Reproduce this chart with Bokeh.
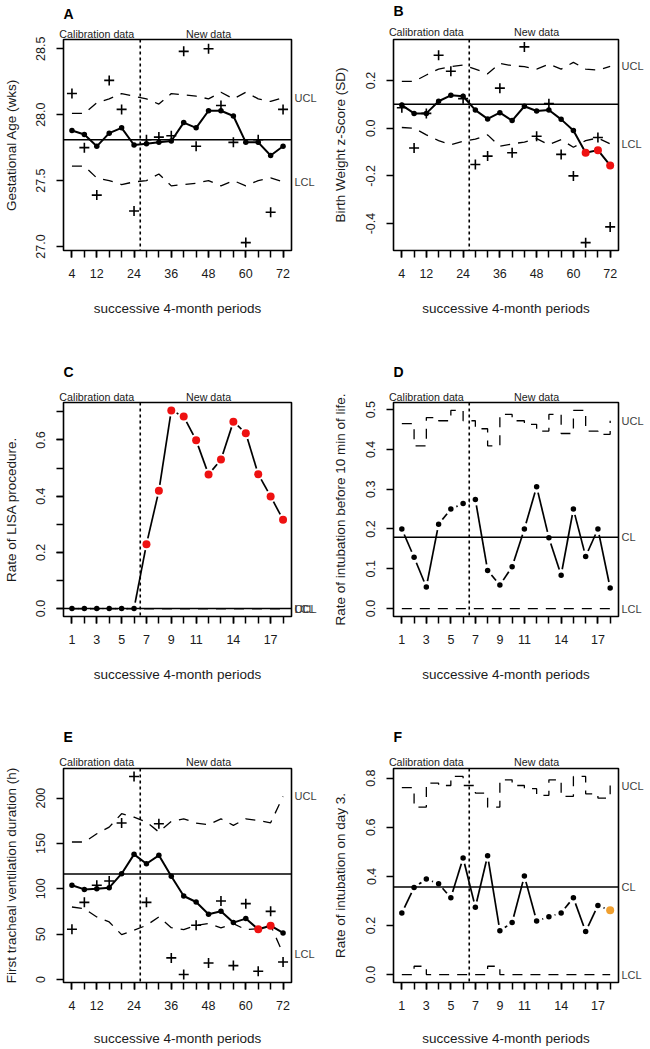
import math
from bokeh.plotting import figure
from bokeh.layouts import gridplot
from bokeh.models import (FixedTicker, PrintfTickFormatter, Span, LinearAxis,
                          CustomJSTickFormatter)
from bokeh.embed import file_html
from bokeh.resources import INLINE

# ------------------------------------------------------------------ data
months = [4, 8, 12, 16, 20, 24, 28, 32, 36, 40, 44, 48, 52, 56, 60, 64, 68, 72]
periods = list(range(1, 19))

month_tick_labels = [4, 12, 24, 36, 48, 60, 72]
period_tick_labels = [1, 3, 5, 7, 9, 11, 14, 17]
x_title = "successive 4-month periods"
phase_labels = ["Calibration data", "New data"]

# A - gestational age
ga_mean = [27.88, 27.85, 27.76, 27.86, 27.90, 27.77, 27.78, 27.79, 27.80,
           27.94, 27.90, 28.03, 28.03, 27.99, 27.79, 27.79, 27.69, 27.76]
ga_ucl = [28.01, 28.01, 28.09, 28.12, 28.16, 28.14, 28.12, 28.08, 28.16,
          28.15, 28.14, 28.12, 28.17, 28.12, 28.17, 28.12, 28.10, 28.13]
ga_lcl = [27.61, 27.61, 27.52, 27.50, 27.47, 27.49, 27.50, 27.55, 27.46,
          27.47, 27.48, 27.50, 27.46, 27.50, 27.46, 27.50, 27.52, 27.49]
ga_obs = [28.16, 27.75, 27.39, 28.26, 28.04, 27.27, 27.81, 27.83, 27.84,
          28.48, 27.76, 28.50, 28.07, 27.79, 27.03, 27.81, 27.26, 28.04]
ga_cl = 27.81
ga_signal = [0] * 18

# B - birth weight z-score
bw_mean = [0.097, 0.062, 0.062, 0.113, 0.138, 0.134, 0.076, 0.039, 0.065,
           0.032, 0.092, 0.072, 0.076, 0.037, -0.010, -0.103, -0.092, -0.156]
bw_ucl = [0.196, 0.196, 0.223, 0.248, 0.258, 0.265, 0.248, 0.228, 0.272,
          0.262, 0.258, 0.248, 0.269, 0.248, 0.276, 0.248, 0.244, 0.259]
bw_lcl = [0.003, 0.000, -0.028, -0.052, -0.069, -0.055, -0.046, -0.028, -0.076,
          -0.066, -0.058, -0.044, -0.069, -0.048, -0.080, -0.052, -0.041, -0.066]
bw_obs = [0.086, -0.083, 0.062, 0.306, 0.239, 0.124, -0.152, -0.117, 0.168,
          -0.103, 0.341, -0.034, 0.103, -0.110, -0.200, -0.480, -0.039, -0.414]
bw_cl = 0.10
bw_signal = [0] * 15 + [1, 1, 1]

# C - LISA rate
lisa_rate = [0.0, 0.0, 0.0, 0.0, 0.0, 0.0, 0.229, 0.419, 0.705,
             0.683, 0.599, 0.477, 0.530, 0.665, 0.624, 0.478, 0.399, 0.316]
lisa_ucl = [0.0] * 18
lisa_lcl = [0.0] * 18
lisa_cl = 0.0
lisa_signal = [0] * 6 + [1] * 12

# D - intubation before 10 min
i10_rate = [0.200, 0.129, 0.054, 0.212, 0.250, 0.264, 0.274, 0.096, 0.059,
            0.105, 0.200, 0.306, 0.178, 0.084, 0.250, 0.131, 0.200, 0.052]
i10_ucl = [0.465, 0.409, 0.480, 0.472, 0.498, 0.472, 0.452, 0.409, 0.488,
           0.472, 0.463, 0.446, 0.488, 0.440, 0.498, 0.446, 0.438, 0.472]
i10_lcl = [0.0] * 18
i10_cl = 0.179
i10_signal = [0] * 18

# E - first tracheal ventilation duration
vent_mean = [103.9, 99.4, 100.2, 101.3, 116.7, 138.0, 127.7, 136.9, 113.8,
             92.1, 85.5, 71.9, 75.2, 62.8, 67.2, 55.4, 59.4, 51.4]
vent_ucl = [151.6, 151.6, 160.7, 168.0, 182.8, 179.0, 173.6, 162.6, 174.3,
            177.2, 172.5, 170.6, 177.2, 170.0, 177.2, 175.4, 172.8, 201.8]
vent_lcl = [80.0, 78.2, 69.0, 63.5, 49.5, 54.3, 59.8, 69.0, 57.2,
            55.0, 59.8, 61.7, 56.9, 61.7, 55.0, 56.1, 59.8, 28.6]
vent_obs = [55.4, 85.1, 103.9, 108.6, 172.5, 223.9, 85.1, 171.7, 23.9,
            5.5, 59.8, 18.3, 86.6, 15.4, 83.7, 9.2, 75.2, 19.4]
vent_cl = 116.3
vent_signal = [0] * 15 + [1, 1, 0]

# F - intubation on day 3
i3_rate = [0.251, 0.355, 0.389, 0.370, 0.313, 0.475, 0.274, 0.484, 0.178,
           0.212, 0.401, 0.218, 0.235, 0.251, 0.313, 0.175, 0.281, 0.262]
i3_ucl = [0.761, 0.682, 0.780, 0.770, 0.807, 0.770, 0.739, 0.682, 0.793,
          0.770, 0.757, 0.730, 0.793, 0.726, 0.807, 0.736, 0.719, 0.770]
i3_lcl = [0.0, 0.034, 0.0, 0.0, 0.0, 0.0, 0.0, 0.034, 0.0,
          0.0, 0.0, 0.0, 0.0, 0.0, 0.0, 0.0, 0.0, 0.0]
i3_cl = 0.357
i3_signal = [0] * 17 + [2]

# ------------------------------------------------------------------ style
FONT = "Liberation Sans"
TXT = "#1a1a1a"
GREY = "#404040"
SIGNAL_COLORS = {1: "#ee1111", 2: "#f0a030"}
DASH = "10 8"


def r_range(lo, hi):
    d = (hi - lo) * 0.04
    return (lo - d, hi + d)


def text_axis(ticks, labels, loc, p, size, color, standoff):
    ax = LinearAxis(ticker=FixedTicker(ticks=ticks),
                    formatter=CustomJSTickFormatter(args=dict(labels=labels),
                                                    code="return labels[index];"))
    ax.axis_line_color = None
    ax.major_tick_line_color = None
    ax.minor_tick_line_color = None
    ax.major_tick_out = 0
    ax.major_tick_in = 0
    ax.minor_tick_out = 0
    ax.minor_tick_in = 0
    ax.major_label_standoff = standoff
    ax.major_label_text_font = FONT
    ax.major_label_text_font_size = size
    ax.major_label_text_color = color
    ax.major_label_orientation = "horizontal"
    p.add_layout(ax, loc)
    return ax


def make_panel(letter, w, h, borders, xr, yr, xt_major, xt_minor,
               yt_major, yt_minor, yfmt, ylab, y_standoff, x_standoff,
               split, phase_x, top_standoff, title_standoff, title_valign,
               side_vals, side_texts):
    bl, br, bt, bb = borders
    p = figure(width=w, height=h, x_range=xr, y_range=yr,
               output_backend="svg", toolbar_location=None,
               min_border_left=bl, min_border_right=br,
               min_border_top=bt, min_border_bottom=bb)
    p.grid.visible = False
    p.background_fill_color = "white"
    p.border_fill_color = "white"
    p.outline_line_color = "black"
    p.outline_line_width = 1.6
    p.outline_line_alpha = 1.0
    for ax in (p.xaxis[0], p.yaxis[0]):
        ax.axis_line_color = None
        ax.major_tick_out = 7
        ax.major_tick_in = 0
        ax.minor_tick_out = 7
        ax.minor_tick_in = 0
        ax.major_tick_line_width = 1.5
        ax.minor_tick_line_width = 1.5
        ax.major_tick_line_color = "black"
        ax.minor_tick_line_color = "black"
        ax.major_label_text_font = FONT
        ax.major_label_text_font_size = "12.5px"
        ax.major_label_text_color = TXT
        ax.axis_label_text_font = FONT
        ax.axis_label_text_font_size = "13.5px"
        ax.axis_label_text_font_style = "normal"
        ax.axis_label_text_color = TXT
        ax.major_label_standoff = 11
    p.xaxis.ticker = FixedTicker(ticks=xt_major, minor_ticks=xt_minor)
    p.xaxis.formatter = PrintfTickFormatter(format="%d")
    p.xaxis.axis_label = x_title
    p.xaxis.axis_label_standoff = x_standoff
    p.yaxis.ticker = FixedTicker(ticks=yt_major, minor_ticks=yt_minor)
    p.yaxis.formatter = PrintfTickFormatter(format=yfmt)
    p.yaxis.major_label_orientation = "vertical"
    p.yaxis.axis_label = ylab
    p.yaxis.axis_label_standoff = y_standoff

    # "Calibration data" / "New data" above the frame
    text_axis(phase_x, phase_labels, "above", p, "10.7px", TXT, top_standoff)
    # UCL / CL / LCL at the right of the frame
    text_axis(side_vals, side_texts, "right", p, "11px", GREY, 3)

    # panel letter
    p.title.text = letter
    p.title.align = "left"
    p.title.vertical_align = title_valign
    p.title.text_font = FONT
    p.title.text_font_size = "14px"
    p.title.text_font_style = "bold"
    p.title.text_color = "black"
    p.title.standoff = title_standoff

    # calibration / new data split
    p.add_layout(Span(location=split, dimension="height", line_color="black",
                      line_width=1.6, line_dash="3 3"))
    return p


def add_points(p, x, y, signal, base_size=5.5, big=8):
    bx = [a for a, s in zip(x, signal) if s == 0]
    by = [b for b, s in zip(y, signal) if s == 0]
    p.scatter(bx, by, size=base_size, color="black", line_width=0)
    for code, col in SIGNAL_COLORS.items():
        sx = [a for a, s in zip(x, signal) if s == code]
        sy = [b for b, s in zip(y, signal) if s == code]
        if sx:
            p.scatter(sx, sy, size=big, color=col, line_width=0)


def gapped_line(p, x, y, xr, yr, frame_w, frame_h, gap=6.0):
    # R type="b": segments interrupted around each point
    kx = frame_w / (xr[1] - xr[0])
    ky = frame_h / (yr[1] - yr[0])
    x0, y0, x1, y1 = [], [], [], []
    for i in range(len(x) - 1):
        dx = x[i + 1] - x[i]
        dy = y[i + 1] - y[i]
        L = math.hypot(dx * kx, dy * ky)
        if L > 2 * gap:
            f = gap / L
            x0.append(x[i] + dx * f)
            y0.append(y[i] + dy * f)
            x1.append(x[i + 1] - dx * f)
            y1.append(y[i + 1] - dy * f)
    p.segment(x0, y0, x1, y1, line_color="black", line_width=1.7)


W = 325
H1, H2, H3 = 340, 350, 358

xr_m = r_range(4, 72)
xr_p = r_range(1, 18)
phase_m = [months[2], months[11]]
phase_p = [periods[2], periods[11]]

# ------------------------------------------------------------------ A
yrA = (26.97, 28.57)
bA = (63, 33, 34, 90)
A = make_panel("A", W, H1, bA, xr_m, yrA, month_tick_labels, months,
               [27.0, 27.5, 28.0, 28.5], [], "%.1f", "Gestational Age (wks)",
               15, 20, 26, phase_m, 0, 2, "top",
               [ga_lcl[-1], ga_ucl[-1]], ["LCL", "UCL"])
A.line(months, ga_ucl, line_color="black", line_width=1.3, line_dash=DASH)
A.line(months, ga_lcl, line_color="black", line_width=1.3, line_dash=DASH)
A.add_layout(Span(location=ga_cl, dimension="width", line_color="black", line_width=1.5))
A.line(months, ga_mean, line_color="black", line_width=2)
add_points(A, months, ga_mean, ga_signal)
A.scatter(months, ga_obs, marker="cross", size=10, line_color="black", line_width=1.6)

# ------------------------------------------------------------------ B
yrB = (-0.513, 0.372)
bB = (68, 32, 38, 90)
B = make_panel("B", W, H1, bB, xr_m, yrB, month_tick_labels, months,
               [-0.4, -0.2, 0.0, 0.2], [], "%.1f", "Birth Weight z-Score (SD)",
               16, 20, 26, phase_m, 2, 4, "top",
               [bw_lcl[-1], bw_ucl[-1]], ["LCL", "UCL"])
B.line(months, bw_ucl, line_color="black", line_width=1.3, line_dash=DASH)
B.line(months, bw_lcl, line_color="black", line_width=1.3, line_dash=DASH)
B.add_layout(Span(location=bw_cl, dimension="width", line_color="black", line_width=1.5))
B.line(months, bw_mean, line_color="black", line_width=2)
add_points(B, months, bw_mean, bw_signal)
B.scatter(months, bw_obs, marker="cross", size=10, line_color="black", line_width=1.6)

# ------------------------------------------------------------------ C
yrC = r_range(0.0, 0.705)
bC = (63, 33, 62, 74)
C = make_panel("C", W, H2, bC, xr_p, yrC, period_tick_labels, periods,
               [0.0, 0.2, 0.4, 0.6], [0.0, 0.1, 0.2, 0.3, 0.4, 0.5, 0.6, 0.7], "%.1f",
               "Rate of LISA procedure.", 15, 20, 6.5, phase_p, 0, 15, "bottom",
               [lisa_lcl[-1], lisa_cl, lisa_ucl[-1]], ["LCL", "CL", "UCL"])
C.step(periods, lisa_ucl, mode="after", line_color="black", line_width=1.3, line_dash=DASH)
C.step(periods, lisa_lcl, mode="after", line_color="black", line_width=1.3, line_dash=DASH)
C.add_layout(Span(location=lisa_cl, dimension="width", line_color="black", line_width=1.5))
gapped_line(C, periods, lisa_rate, xr_p, yrC, W - bC[0] - bC[1], H2 - bC[2] - bC[3])
add_points(C, periods, lisa_rate, lisa_signal)

# ------------------------------------------------------------------ D
yrD = r_range(0.0, 0.498)
bD = (68, 32, 62, 74)
D = make_panel("D", W, H2, bD, xr_p, yrD, period_tick_labels, periods,
               [0.0, 0.1, 0.2, 0.3, 0.4, 0.5], [], "%.1f",
               "Rate of intubation before 10 min of life.", 16, 20, 6.5, phase_p, 0, 15,
               "bottom", [i10_lcl[-1], i10_cl, i10_ucl[-1]], ["LCL", "CL", "UCL"])
D.step(periods, i10_ucl, mode="after", line_color="black", line_width=1.3, line_dash=DASH)
D.step(periods, i10_lcl, mode="after", line_color="black", line_width=1.3, line_dash=DASH)
D.add_layout(Span(location=i10_cl, dimension="width", line_color="black", line_width=1.5))
gapped_line(D, periods, i10_rate, xr_p, yrD, W - bD[0] - bD[1], H2 - bD[2] - bD[3])
add_points(D, periods, i10_rate, i10_signal)

# ------------------------------------------------------------------ E
yrE = r_range(5.5, 223.9)
bE = (63, 34, 78, 66)
E = make_panel("E", W, H3, bE, xr_m, yrE, month_tick_labels, months,
               [0, 50, 100, 150, 200], [], "%d",
               "First tracheal ventilation duration (h)", 15, 18, 26, phase_m, 1, 15,
               "bottom", [vent_lcl[-1], vent_ucl[-1]], ["LCL", "UCL"])
E.line(months, vent_ucl, line_color="black", line_width=1.3, line_dash=DASH)
E.line(months, vent_lcl, line_color="black", line_width=1.3, line_dash=DASH)
E.add_layout(Span(location=vent_cl, dimension="width", line_color="black", line_width=1.5))
E.line(months, vent_mean, line_color="black", line_width=2)
add_points(E, months, vent_mean, vent_signal)
E.scatter(months, vent_obs, marker="cross", size=10, line_color="black", line_width=1.6)

# ------------------------------------------------------------------ F
yrF = r_range(0.0, 0.807)
bF = (68, 31, 78, 65)
F = make_panel("F", W, H3, bF, xr_p, yrF, period_tick_labels, periods,
               [0.0, 0.2, 0.4, 0.6, 0.8], [], "%.1f",
               "Rate of intubation on day 3.", 16, 18, 6.5, phase_p, 1, 15,
               "bottom", [i3_lcl[-1], i3_cl, i3_ucl[-1]], ["LCL", "CL", "UCL"])
F.step(periods, i3_ucl, mode="after", line_color="black", line_width=1.3, line_dash=DASH)
F.step(periods, i3_lcl, mode="after", line_color="black", line_width=1.3, line_dash=DASH)
F.add_layout(Span(location=i3_cl, dimension="width", line_color="black", line_width=1.5))
gapped_line(F, periods, i3_rate, xr_p, yrF, W - bF[0] - bF[1], H3 - bF[2] - bF[3])
add_points(F, periods, i3_rate, i3_signal)

grid = gridplot([[A, B], [C, D], [E, F]], toolbar_location=None)
open("out.html", "w").write(file_html(grid, INLINE))
